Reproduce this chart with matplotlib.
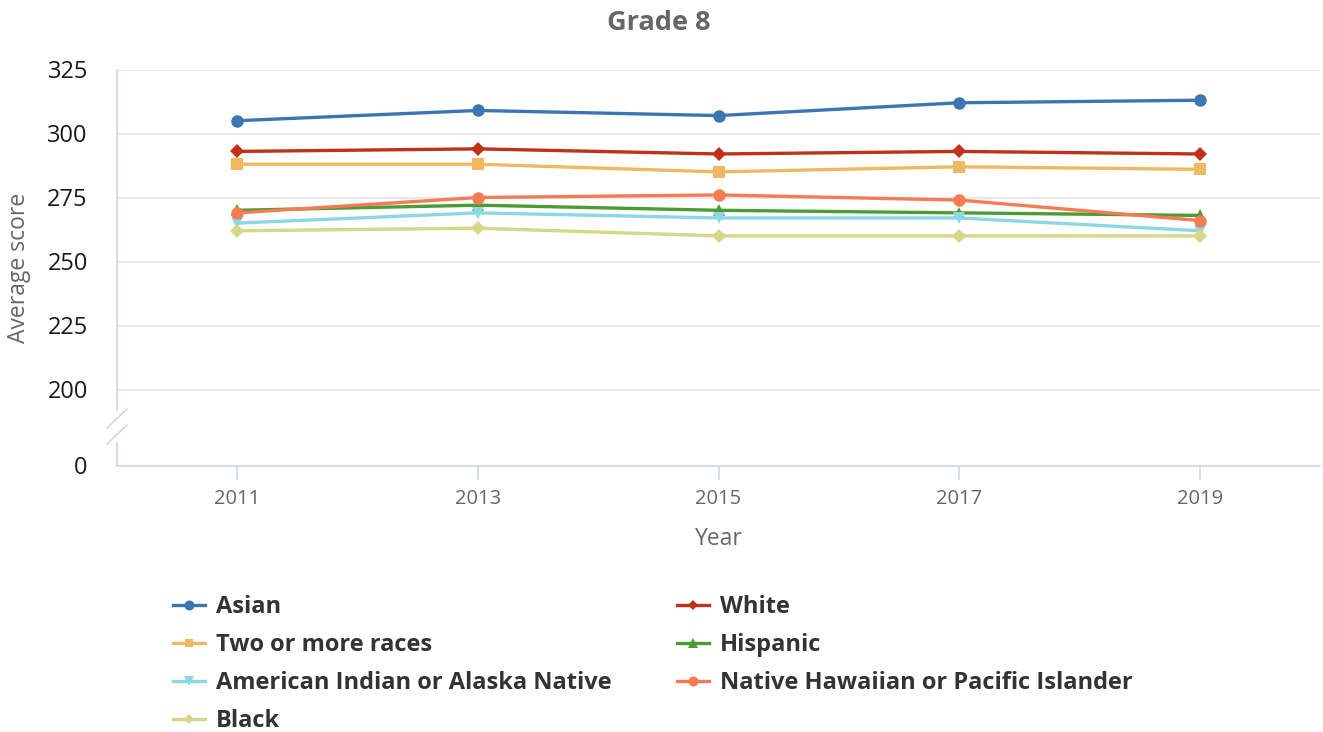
import matplotlib
matplotlib.use("Agg")
import matplotlib.pyplot as plt
from matplotlib.lines import Line2D

plt.rcParams['font.family'] = ['Open Sans', 'DejaVu Sans']

years = [2011, 2013, 2015, 2017, 2019]
series_names = ["Asian", "White", "Two or more races", "Hispanic",
                "American Indian or Alaska Native",
                "Native Hawaiian or Pacific Islander", "Black"]
asian = [305, 309, 307, 312, 313]
white = [293, 294, 292, 293, 292]
two_or_more = [288, 288, 285, 287, 286]
hispanic = [270, 272, 270, 269, 268]
aian = [265, 269, 267, 267, 262]
nhpi = [269, 275, 276, 274, 266]
black = [262, 263, 260, 260, 260]
y_ticks = [200, 225, 250, 275, 300, 325]
x_ticks = years

values = [asian, white, two_or_more, hispanic, aian, nhpi, black]
colors = ["#3b76b1", "#bf3118", "#f0b860", "#4b9c35", "#8bd8e4", "#f47b53", "#d5d789"]
markers = ["o", "D", "s", "^", "v", "o", "D"]
msizes = [9, 7, 8, 9, 9, 9, 7]

W, H = 1323, 732
fig = plt.figure(figsize=(W / 100, H / 100), dpi=100)
ax_l, ax_r, ax_t, ax_b = 117, 1320, 69.5, 465.5
ax = fig.add_axes([ax_l / W, 1 - ax_b / H, (ax_r - ax_l) / W, (ax_b - ax_t) / H])

px_per_unit = 64 / 25
y_bottom = 325 - (ax_b - ax_t) / px_per_unit
ax.set_xlim(2010, 2020)
ax.set_ylim(y_bottom, 325)

handles = []
for name, vals, c, m, ms in zip(series_names, values, colors, markers, msizes):
    ln, = ax.plot(years, vals, color=c, lw=2.4, marker=m, ms=ms,
                  markeredgewidth=0, clip_on=False, zorder=3, label=name)
    handles.append(ln)

# grid
for yv in y_ticks:
    ax.axhline(yv, color="#e6e6e6", lw=1.3, zorder=1)

ax.set_yticks(y_ticks + [y_bottom])
ax.set_yticklabels([str(v) for v in y_ticks] + ["0"])
ax.tick_params(axis="y", length=0, pad=21, labelsize=17, labelcolor="#1a1a1a")
ax.set_xticks(x_ticks)
ax.set_xticklabels([str(v) for v in x_ticks])
ax.tick_params(axis="x", length=10, width=1.2, color="#ccd6eb", pad=7,
               labelsize=14.5, labelcolor="#666666", direction="out")

for s in ["top", "right"]:
    ax.spines[s].set_visible(False)
ax.spines["bottom"].set_color("#ccd6eb")
ax.spines["bottom"].set_linewidth(1.2)
brk_hi = 325 - (410 - ax_t) / px_per_unit
brk_lo = 325 - (443 - ax_t) / px_per_unit
ax.spines["left"].set_color("#ccd6eb")
ax.spines["left"].set_linewidth(1.2)
ax.spines["left"].set_bounds(brk_hi, 325)
ax.plot([2010, 2010], [y_bottom, brk_lo], color="#ccd6eb", lw=1.2, clip_on=False, zorder=2)

# break marks (pixel positions)
for (x0, y0, x1, y1) in [(107, 428, 127, 409), (107, 444, 127, 425)]:
    fig.add_artist(Line2D([x0 / W, x1 / W], [1 - y0 / H, 1 - y1 / H],
                          transform=fig.transFigure, color="#ccd6eb", lw=1.2))

ax.set_ylabel("Average score", fontsize=16.5, color="#666666", labelpad=12)
ax.set_xlabel("Year", fontsize=16.5, color="#666666", labelpad=13)
fig.text(659 / W, 1 - 23 / H, "Grade 8", ha="center", va="center",
         fontsize=19.5, fontweight="bold", color="#666666")

col1 = [handles[i] for i in (0, 2, 4, 6)]
col2 = [handles[i] for i in (1, 3, 5)]
leg_kw = dict(frameon=False, handlelength=1.35, handletextpad=0.47,
              labelspacing=0.59, markerscale=0.8, borderaxespad=0, borderpad=0,
              prop={"size": 17, "weight": "bold"}, labelcolor="#333333")
fig.legend(handles=col1, labels=[h.get_label() for h in col1], loc="upper left",
           bbox_to_anchor=(173 / W, 1 - 595 / H), **leg_kw)
fig.legend(handles=col2, labels=[h.get_label() for h in col2], loc="upper left",
           bbox_to_anchor=(677 / W, 1 - 595 / H), **leg_kw)

fig.savefig("out.png", dpi=100)
